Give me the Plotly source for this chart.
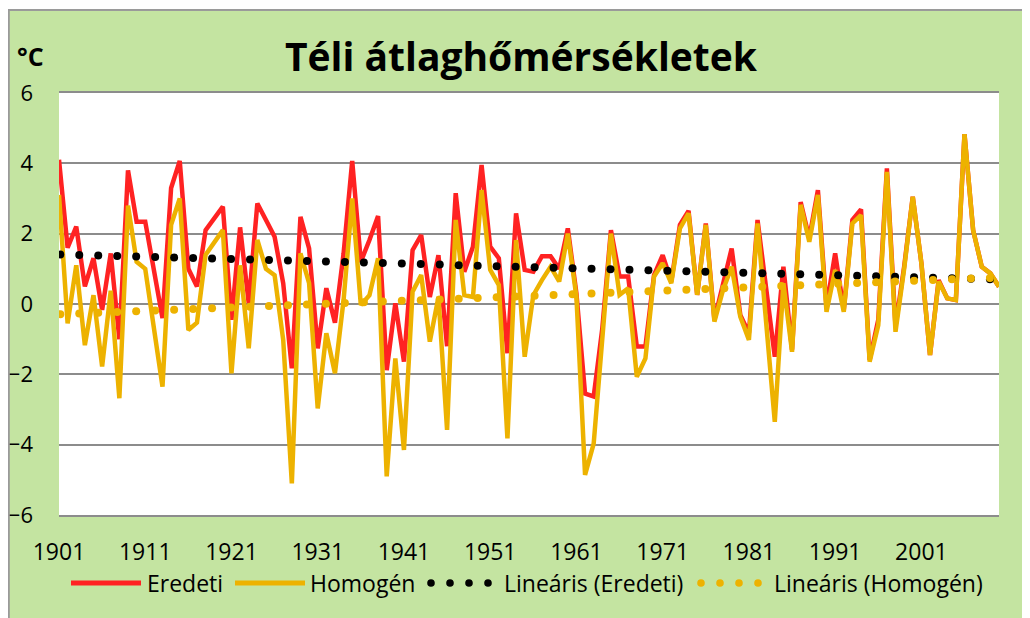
import numpy as np
import plotly.graph_objects as go

years = list(range(1901, 2011))

eredeti = [
    4.1, 1.6, 2.2, 0.5, 1.3, -0.17, 1.44, -1.0, 3.8, 2.34,
    2.34, 0.9, -0.4, 3.3, 4.07, 1.0, 0.5, 2.1, 2.44, 2.77,
    -0.45, 2.18, 0.02, 2.86, 2.39, 1.91, 0.59, -1.83, 2.48, 1.58,
    -1.26, 0.45, -0.53, 1.44, 4.07, 1.2, 1.82, 2.5, -1.88, 0.02,
    -1.64, 1.53, 1.96, 0.2, 1.39, -1.2, 3.15, 0.92, 1.63, 3.95,
    1.63, 1.3, -1.4, 2.58, 0.97, 0.92, 1.36, 1.36, 1.0, 2.15,
    0.3, -2.55, -2.63, -0.7, 2.1, 0.78, 0.78, -1.21, -1.21, 0.82,
    1.39, 0.64, 2.25, 2.65, 0.26, 2.29, -0.45, 0.59, 1.58, -0.31,
    -0.83, 2.39, 0.5, -1.5, 1.06, -1.3, 2.9, 1.87, 3.24, -0.08,
    1.44, -0.17, 2.39, 2.69, -1.59, -0.45, 3.86, -0.64, 1.06, 3.05,
    1.16, -1.45, 0.68, 0.16, 0.11, 4.83, 2.1, 1.06, 0.87, 0.49,
]

homogen = [
    3.1, -0.55, 1.1, -1.17, 0.25, -1.78, 0.38, -2.68, 2.8, 1.2,
    1.0, -0.7, -2.35, 2.25, 3.0, -0.74, -0.53, 1.4, 1.77, 2.1,
    -1.97, 1.1, -1.26, 1.82, 1.0, 0.82, -1.02, -5.1, 1.44, 0.59,
    -2.97, -0.83, -1.97, 0.11, 3.0, -0.03, 0.25, 1.3, -4.9, -1.55,
    -4.15, 0.35, 0.82, -1.07, 0.2, -3.58, 2.39, 0.25, 0.2, 3.24,
    0.97, 0.54, -3.82, 1.82, -1.5, 0.25, 0.68, 1.06, 0.64, 2.0,
    0.2, -4.86, -3.97, -1.0, 2.0, 0.26, 0.45, -2.07, -1.55, 0.78,
    1.16, 0.59, 2.15, 2.58, 0.26, 2.25, -0.5, 0.4, 1.06, -0.36,
    -1.02, 2.29, -0.4, -3.35, 0.59, -1.36, 2.82, 1.77, 3.1, -0.22,
    0.97, -0.22, 2.29, 2.53, -1.64, -0.6, 3.76, -0.79, 1.0, 3.05,
    1.16, -1.45, 0.64, 0.16, 0.11, 4.83, 2.1, 1.06, 0.87, 0.49,
]

x_ticks = list(range(1901, 2002, 10))
y_ticks = [-6, -4, -2, 0, 2, 4, 6]

title_text = "Téli átlaghőmérsékletek"
unit_text = "°C"
legend_names = ["Eredeti", "Homogén", "Lineáris (Eredeti)", "Lineáris (Homogén)"]

RED = "#FF2222"
GOLD = "#EDB200"
GREEN = "#C4E4A1"
GRID = "#8C8C8C"
FONT = "Open Sans"

# Linear trend lines (least squares, as Excel does)
yr = np.array(years, dtype=float)
fit_e = np.polyfit(yr, np.array(eredeti), 1)
fit_h = np.polyfit(yr, np.array(homogen), 1)
trend_x = np.arange(1901.15, 2010.0, 2.2)

fig = go.Figure()
fig.add_trace(go.Scatter(x=years, y=eredeti, mode="lines", name=legend_names[0],
                         line=dict(color=RED, width=4.5), showlegend=False))
fig.add_trace(go.Scatter(x=years, y=homogen, mode="lines", name=legend_names[1],
                         line=dict(color=GOLD, width=4.5), showlegend=False))
fig.add_trace(go.Scatter(x=trend_x, y=np.polyval(fit_e, trend_x), mode="markers",
                         name=legend_names[2], marker=dict(color="black", size=8),
                         showlegend=False))
fig.add_trace(go.Scatter(x=trend_x, y=np.polyval(fit_h, trend_x), mode="markers",
                         name=legend_names[3], marker=dict(color=GOLD, size=8),
                         showlegend=False))

# figure pixel frame (page is offset by the 8px body margin)
W, H = 1030, 618
L, R, T, B = 51, 991, 85, 507


def px(x):
    return (x - L) / (R - L)


def py(y):
    return (B - y) / (B - T)


shapes = [
    dict(type="rect", xref="paper", yref="paper", x0=px(-2), x1=px(W + 2), y0=py(1.2), y1=py(-2),
         fillcolor="white", line=dict(width=0), layer="below"),
    dict(type="line", xref="paper", yref="paper", x0=px(0.8), x1=px(0.8), y0=py(1.5), y1=py(H + 2),
         line=dict(color="#9A9A9A", width=2)),
    dict(type="line", xref="paper", yref="paper", x0=px(0), x1=px(W + 2), y0=py(2), y1=py(2),
         line=dict(color="#9A9A9A", width=2)),
]

annotations = [
    dict(text="<b>" + unit_text + "</b>", xref="paper", yref="paper", x=px(7), y=py(48),
         xanchor="left", yanchor="middle", showarrow=False,
         font=dict(family=FONT, size=25, color="black")),
]

# manual legend
LEG = 575
leg_y = py(LEG)
shapes.append(dict(type="line", xref="paper", yref="paper", x0=px(63), x1=px(133),
                   y0=leg_y, y1=leg_y, line=dict(color=RED, width=5)))
shapes.append(dict(type="line", xref="paper", yref="paper", x0=px(227), x1=px(297),
                   y0=leg_y, y1=leg_y, line=dict(color=GOLD, width=5)))
for cx_list, col in (([423, 442, 461, 480], "black"), ([693, 712, 731, 750], GOLD)):
    for cx in cx_list:
        shapes.append(dict(type="circle", xref="paper", yref="paper",
                           x0=px(cx - 3.8), x1=px(cx + 3.8), y0=py(LEG + 3.8), y1=py(LEG - 3.8),
                           fillcolor=col, line=dict(width=0)))
for name, lx in zip(legend_names, [137, 300, 494, 764]):
    annotations.append(dict(text=name, xref="paper", yref="paper", x=px(lx), y=leg_y,
                            xanchor="left", yanchor="middle", showarrow=False,
                            font=dict(family=FONT, size=23, color="black")))

fig.update_layout(
    width=W, height=H,
    margin=dict(l=L, r=W - R, t=T, b=H - B, autoexpand=False),
    paper_bgcolor=GREEN, plot_bgcolor="white",
    title=dict(text="<b>" + title_text + "</b>", x=513 / W, xanchor="center",
               xref="container", y=1 - 49 / H, yanchor="middle", yref="container",
               font=dict(family=FONT, size=39, color="black")),
    showlegend=False,
    shapes=shapes,
    annotations=annotations,
    xaxis=dict(range=[1901, 2010], tickvals=x_ticks, ticktext=[str(v) for v in x_ticks],
               showgrid=False, zeroline=False, showline=True, mirror=True, automargin=False,
               linecolor=GRID, linewidth=1.5, ticks="", ticklabelstandoff=16,
               tickfont=dict(family=FONT, size=23, color="black")),
    yaxis=dict(range=[-6, 6], tickvals=y_ticks, showgrid=True, gridcolor=GRID, gridwidth=1.5,
               zeroline=False, showline=False, ticks="", ticklabelstandoff=25, automargin=False,
               tickfont=dict(family=FONT, size=22, color="black")),
)

fig.write_html("out.html", config={"displayModeBar": False})
